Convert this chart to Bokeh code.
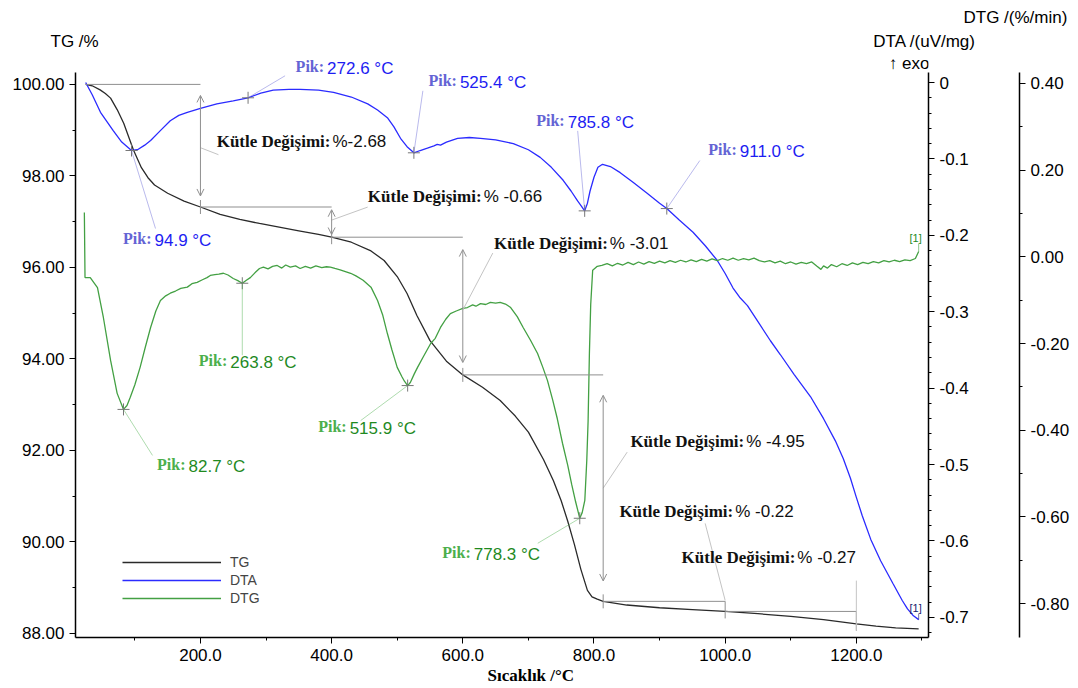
import numpy as np
from bokeh.plotting import figure
from bokeh.models import (Range1d, LinearAxis, SingleIntervalTicker,
                          NumeralTickFormatter, Label, Arrow, OpenHead,
                          Legend, LegendItem, Title)
from bokeh.embed import file_html
from bokeh.resources import INLINE

# ---------------- measured curves ----------------
# TG: residual mass (%)
tg_temp = [25, 35, 47, 55, 63, 73, 83, 98, 110, 120,
           130, 150, 175, 200, 230, 260, 290, 320, 350, 380,
           400, 430, 460, 480, 500, 515, 530, 550, 575, 600,
           630, 657, 680, 700, 723, 738, 750, 760, 770, 780,
           790, 797, 805, 814, 850, 900, 950, 1000, 1050, 1100,
           1150, 1200, 1230, 1260, 1295]
tg_mass = [100.00, 99.97, 99.88, 99.80, 99.70, 99.45, 99.15, 98.56, 98.18, 97.96,
           97.80, 97.62, 97.45, 97.32, 97.16, 97.05, 96.96, 96.88, 96.80, 96.72,
           96.66, 96.55, 96.36, 96.15, 95.80, 95.43, 94.95, 94.40, 93.95, 93.65,
           93.38, 93.09, 92.75, 92.40, 91.80, 91.34, 90.90, 90.45, 89.95, 89.40,
           88.94, 88.80, 88.75, 88.70, 88.62, 88.56, 88.52, 88.48, 88.43, 88.37,
           88.30, 88.21, 88.16, 88.12, 88.10]

# DTA signal (uV/mg), exo up
dta_temp = [25, 35, 47.6, 67, 80, 94.9, 104, 115, 124, 140,
            154, 167, 180, 200, 225, 250, 272.6, 292, 311, 335,
            352, 380, 403, 430, 455, 470, 485, 495, 505, 515,
            525.4, 535, 546, 556, 561, 566, 575, 592, 610, 627,
            650, 677, 700, 718, 735, 753, 765, 775, 781, 785.8,
            790, 794, 800, 806, 813, 825, 840, 860, 881, 900,
            911, 930, 951, 970, 988, 1000, 1012, 1022, 1034, 1050,
            1069, 1084, 1105, 1130, 1150, 1168, 1180, 1191, 1200, 1209,
            1222, 1237, 1256, 1270, 1278, 1287, 1295]
dta_signal = [0.000, -0.016, -0.039, -0.063, -0.078, -0.089, -0.088, -0.082, -0.076, -0.062,
              -0.050, -0.043, -0.039, -0.034, -0.028, -0.024, -0.020, -0.014, -0.010, -0.009,
              -0.009, -0.010, -0.013, -0.019, -0.028, -0.036, -0.046, -0.058, -0.073, -0.084,
              -0.092, -0.089, -0.086, -0.083, -0.081, -0.082, -0.078, -0.073, -0.072, -0.073,
              -0.075, -0.080, -0.088, -0.098, -0.111, -0.128, -0.142, -0.155, -0.162, -0.168,
              -0.158, -0.142, -0.124, -0.111, -0.107, -0.110, -0.118, -0.131, -0.145, -0.158,
              -0.165, -0.180, -0.196, -0.214, -0.233, -0.250, -0.269, -0.281, -0.292, -0.313,
              -0.338, -0.356, -0.382, -0.411, -0.440, -0.469, -0.492, -0.518, -0.543, -0.567,
              -0.598, -0.626, -0.656, -0.678, -0.689, -0.698, -0.703]

# DTG: rate of mass change (%/min)
dtg_temp = [23, 24, 32, 43, 52, 63, 73, 82.7, 88, 93,
            100, 108, 116, 124, 132, 139, 147, 154, 162, 170,
            180, 187, 195, 203, 210, 215, 222, 228, 235, 242,
            250, 257, 263.8, 270, 276, 283, 290, 296, 303, 310,
            317, 324, 330, 337, 345, 352, 360, 368, 376, 385,
            392, 398, 405, 413, 421, 429, 437, 448, 460, 470,
            478, 485, 492, 500, 507, 511, 515.9, 520, 526, 531,
            540, 551, 558, 566, 574, 581, 590, 600, 607, 615,
            620, 627, 635, 642, 650, 657, 665, 673, 683, 692,
            703, 714, 722, 729, 737, 744, 752, 760, 766, 772,
            778.3, 782, 786, 789, 791, 793, 795, 798, 805, 812,
            820, 828, 836, 844, 852, 860, 868, 876, 884, 892,
            900, 908, 916, 924, 932, 940, 948, 956, 964, 972,
            980, 988, 996, 1004, 1012, 1020, 1028, 1036, 1044, 1052,
            1060, 1068, 1076, 1084, 1092, 1100, 1108, 1116, 1124, 1132,
            1140, 1146, 1150, 1156, 1162, 1170, 1178, 1186, 1194, 1202,
            1210, 1218, 1226, 1234, 1242, 1250, 1258, 1266, 1274, 1282,
            1290, 1295]
dtg_rate = [0.102, -0.048, -0.048, -0.071, -0.140, -0.239, -0.315, -0.352, -0.343, -0.324,
            -0.295, -0.255, -0.208, -0.163, -0.125, -0.101, -0.090, -0.084, -0.079, -0.073,
            -0.070, -0.062, -0.059, -0.053, -0.048, -0.043, -0.041, -0.040, -0.038, -0.042,
            -0.050, -0.055, -0.061, -0.054, -0.048, -0.037, -0.027, -0.024, -0.028, -0.022,
            -0.020, -0.026, -0.019, -0.024, -0.021, -0.027, -0.022, -0.026, -0.021, -0.025,
            -0.023, -0.024, -0.027, -0.030, -0.034, -0.038, -0.044, -0.054, -0.070, -0.101,
            -0.135, -0.177, -0.215, -0.255, -0.276, -0.287, -0.297, -0.290, -0.270, -0.255,
            -0.230, -0.200, -0.188, -0.163, -0.144, -0.131, -0.125, -0.119, -0.117, -0.111,
            -0.114, -0.108, -0.110, -0.105, -0.107, -0.105, -0.109, -0.117, -0.138, -0.163,
            -0.192, -0.223, -0.255, -0.285, -0.330, -0.373, -0.430, -0.481, -0.525, -0.565,
            -0.603, -0.590, -0.562, -0.470, -0.380, -0.223, -0.110, -0.031, -0.022, -0.020,
            -0.016, -0.021, -0.015, -0.019, -0.013, -0.018, -0.012, -0.017, -0.011, -0.015,
            -0.010, -0.014, -0.009, -0.013, -0.008, -0.012, -0.007, -0.011, -0.006, -0.010,
            -0.005, -0.009, -0.004, -0.008, -0.003, -0.008, -0.004, -0.007, -0.003, -0.009,
            -0.012, -0.009, -0.014, -0.010, -0.016, -0.012, -0.017, -0.013, -0.016, -0.012,
            -0.022, -0.029, -0.021, -0.026, -0.018, -0.023, -0.016, -0.020, -0.014, -0.018,
            -0.013, -0.016, -0.011, -0.014, -0.009, -0.012, -0.008, -0.011, -0.007, -0.009,
            -0.004, 0.012]

# peak temperatures from the evaluation software (°C)
dta_peak_temp = [94.9, 272.6, 525.4, 785.8, 911.0]
dtg_peak_temp = [82.7, 263.8, 515.9, 778.3]

# mass-change steps: temperature bounds (°C) and change (%)
step_bounds = [25, 200, 400, 600, 814, 1000, 1200]
step_change = [-2.68, -0.66, -3.01, -4.95, -0.22, -0.27]
start_mass = 100.00

legend_names = ["TG", "DTA", "DTG"]

# ---------------- layout ----------------
W, H = 1078, 688
BL, BR, BT, BB = 75, 150, 52, 51       # frame borders (frame reaches up to y=52)
AXIS_TOP = 72                          # y axes start here
FRAME_W = W - BL - BR
AXIS_H = H - BB - AXIS_TOP
X_RANGE = (9.5, 1310.0)
TG_AXIS = (87.91, 100.26)
DTA_AXIS = (-0.7264, 0.0131)
DTG_AXIS = (-0.878, 0.425)

px_T = FRAME_W / (X_RANGE[1] - X_RANGE[0])
px_tg = AXIS_H / (TG_AXIS[1] - TG_AXIS[0])
px_dta = AXIS_H / (DTA_AXIS[1] - DTA_AXIS[0])
px_dtg = AXIS_H / (DTG_AXIS[1] - DTG_AXIS[0])


def extend(axis, scale):
    return (axis[0], axis[1] + (AXIS_TOP - BT) / scale)


SANS = "Liberation Sans"
SERIF = "Liberation Serif"
C_TG = "#2a2a2a"
C_DTA = "#2b2bff"
C_DTG = "#43a043"
GREY = "#8f8f8f"
LEADER = "#c4c4c4"
NBSP = "\u00a0"

# label / leader offsets in pixels (dx right, dy down) from the peak point
dta_label_off = [(20, 90), (76, -29), (43, -70), (-20, -88), (70, -57)]
dta_leader_off = [(24, 78), (37, -22), (9, -62), (-7, -80), (33, -48)]
dtg_label_off = [(62, 57), (-15, 79), (-61, 43), (-109, 36)]
dtg_leader_off = [(29, 46), (0, 72), (-47, 35), (-42, 25)]
# mass-change label offsets from (step end, mid level)
step_label_off = [(130, -4), (150, -26), (145, -63), (141, -47), (8, -95), (-61, -60)]
step_leader_off = [((0, 2), (18, 9)), ((0, -2), (36, -15)), ((0, 4), (30, -53)),
                   ((0, 0), (24, -36)), ((0, -6), (-20, -83)), ((0, -37), (0, 13))]
step_sep = ["", " ", " ", " ", " ", " "]

p = figure(width=W, height=H, output_backend="svg", toolbar_location=None,
           x_range=Range1d(*X_RANGE), y_range=Range1d(*extend(TG_AXIS, px_tg)),
           min_border_left=BL, min_border_right=BR,
           min_border_top=BT, min_border_bottom=BB)
p.extra_y_ranges = {"dta": Range1d(*extend(DTA_AXIS, px_dta)),
                    "dtg": Range1d(*extend(DTG_AXIS, px_dtg))}
p.outline_line_color = None
p.xgrid.visible = False
p.ygrid.visible = False
p.background_fill_color = "white"
p.border_fill_color = "white"

# outer title row: DTG axis title
p.title.text = "DTG /(%/min)"
p.title.align = "left"
p.title.offset = 963 - BL
p.title.standoff = 3
p.title.text_font = SANS
p.title.text_font_size = "17px"
p.title.text_font_style = "normal"
p.title.text_color = "black"

# inner title row: TG and DTA axis titles
p.add_layout(Title(text="TG /%" + NBSP * 164 + "DTA /(uV/mg)", align="left",
                   offset=50 - BL, standoff=3, text_font=SANS,
                   text_font_size="17px", text_font_style="normal",
                   text_color="black"), "above")


def style_axis(ax):
    ax.axis_line_color = "black"
    ax.axis_line_width = 1.5
    ax.major_tick_line_color = "black"
    ax.major_tick_in = 0
    ax.major_tick_out = 6
    ax.minor_tick_line_color = "black"
    ax.minor_tick_in = 0
    ax.minor_tick_out = 3
    ax.major_label_text_font = SANS
    ax.major_label_text_font_size = "17px"
    ax.major_label_text_color = "black"
    ax.major_label_standoff = 5


xa = p.xaxis[0]
xa.ticker = SingleIntervalTicker(interval=200, num_minor_ticks=2)
xa.formatter = NumeralTickFormatter(format="0.0")
style_axis(xa)

ya = p.yaxis[0]
ya.ticker = SingleIntervalTicker(interval=2, num_minor_ticks=2)
ya.formatter = NumeralTickFormatter(format="0.00")
ya.bounds = TG_AXIS
style_axis(ya)

dta_axis = LinearAxis(y_range_name="dta", bounds=DTA_AXIS,
                      ticker=SingleIntervalTicker(interval=0.1, num_minor_ticks=5),
                      formatter=NumeralTickFormatter(format="0.[0]"),
                      axis_label=" ", axis_label_standoff=34,
                      axis_label_text_font_size="10px")
style_axis(dta_axis)
p.add_layout(dta_axis, "right")

dtg_axis = LinearAxis(y_range_name="dtg", bounds=DTG_AXIS,
                      ticker=SingleIntervalTicker(interval=0.2, num_minor_ticks=2),
                      formatter=NumeralTickFormatter(format="0.00"))
style_axis(dtg_axis)
p.add_layout(dtg_axis, "right")

# x-axis title below the tick labels
p.add_layout(Title(text="Sıcaklık /°C", align="left", offset=487 - BL, standoff=0,
                   text_font=SERIF, text_font_style="bold", text_font_size="17px",
                   text_color="black"), "below")

# ---------------- curves ----------------
r_tg = p.line(tg_temp, tg_mass, line_color=C_TG, line_width=1.3)
r_dta = p.line(dta_temp, dta_signal, line_color=C_DTA, line_width=1.3, y_range_name="dta")
r_dtg = p.line(dtg_temp, dtg_rate, line_color=C_DTG, line_width=1.3, y_range_name="dtg")


def text_label(**kw):
    p.add_layout(Label(**kw))


# ---------------- peak annotations ----------------
def peak_block(peaks, temps, vals, py, rname, label_off, leader_off, c_pik, c_val):
    ys = list(np.interp(peaks, temps, vals))
    p.scatter(peaks, ys, marker="cross", size=12, line_color="#777777",
              line_width=1, y_range_name=rname)
    x0, y0, x1, y1 = [], [], [], []
    for t, v, (dx, dy) in zip(peaks, ys, leader_off):
        x0.append(t)
        y0.append(v)
        x1.append(t + dx / px_T)
        y1.append(v - dy / py)
    p.segment(x0=x0, y0=y0, x1=x1, y1=y1, line_color=c_pik, line_alpha=0.45,
              line_width=1, y_range_name=rname)
    for t, v, (dx, dy) in zip(peaks, ys, label_off):
        text_label(x=t, y=v, y_range_name=rname, x_offset=dx, y_offset=-dy + 2,
                   text="Pik:", text_align="right", text_baseline="middle",
                   text_font=SERIF, text_font_style="bold",
                   text_font_size="16px", text_color=c_pik)
        text_label(x=t, y=v, y_range_name=rname, x_offset=dx + 3, y_offset=-dy,
                   text=f"{t:.1f} °C", text_align="left", text_baseline="middle",
                   text_font=SANS, text_font_size="17px", text_color=c_val)


peak_block(dta_peak_temp, dta_temp, dta_signal, px_dta, "dta",
           dta_label_off, dta_leader_off, "#6464d4", "#1d1df2")
peak_block(dtg_peak_temp, dtg_temp, dtg_rate, px_dtg, "dtg",
           dtg_label_off, dtg_leader_off, "#4caf4c", "#1f8a1f")

# ---------------- mass-change steps ----------------
levels = [start_mass]
for c in step_change:
    levels.append(round(levels[-1] + c, 2))

hx0, hy0, hx1, hy1 = [], [], [], []
for i in range(len(step_change)):
    hx0.append(step_bounds[i])
    hx1.append(step_bounds[i + 1])
    hy0.append(levels[i])
    hy1.append(levels[i])
p.segment(x0=hx0, y0=hy0, x1=hx1, y1=hy1, line_color=GREY, line_width=1)

vx0, vy0, vx1, vy1 = [], [], [], []
for i in range(len(step_change)):
    t = step_bounds[i + 1]
    top, bot = levels[i], levels[i + 1]
    if i < 4:
        inset = 0.09 * (top - bot)
        p.add_layout(Arrow(start=OpenHead(size=7, line_color=GREY, line_width=1),
                           end=OpenHead(size=7, line_color=GREY, line_width=1),
                           x_start=t, y_start=top - inset, x_end=t, y_end=bot + inset,
                           line_color=GREY, line_width=1))
        vx0.append(t); vy0.append(bot + 7 / px_tg)
        vx1.append(t); vy1.append(bot - 7 / px_tg)
    else:
        vx0.append(t); vy0.append(top)
        vx1.append(t); vy1.append(bot - 7 / px_tg)
p.segment(x0=vx0, y0=vy0, x1=vx1, y1=vy1, line_color=GREY, line_width=1)

lx0, ly0, lx1, ly1 = [], [], [], []
for i, c in enumerate(step_change):
    t = step_bounds[i + 1]
    mid = (levels[i] + levels[i + 1]) / 2
    (a, b), (cx, cy) = step_leader_off[i]
    lx0.append(t + a / px_T); ly0.append(mid - b / px_tg)
    lx1.append(t + cx / px_T); ly1.append(mid - cy / px_tg)
    dx, dy = step_label_off[i]
    text_label(x=t, y=mid, x_offset=dx, y_offset=-dy,
               text="Kütle Değişimi:", text_align="right", text_baseline="middle",
               text_font=SERIF, text_font_style="bold", text_font_size="17px",
               text_color="#111111")
    text_label(x=t, y=mid, x_offset=dx + 2, y_offset=-dy,
               text=f"%{step_sep[i]}{c:.2f}", text_align="left",
               text_baseline="middle", text_font=SANS, text_font_size="17px",
               text_color="#111111")
p.segment(x0=lx0, y0=ly0, x1=lx1, y1=ly1, line_color=LEADER, line_width=1)

# end markers "[1]"
end_g = (dtg_temp[-1], dtg_rate[-1])
p.segment(x0=[end_g[0]], y0=[end_g[1]], x1=[end_g[0]], y1=[end_g[1] + 8 / px_dtg],
          line_color=C_DTG, line_alpha=0.6, y_range_name="dtg")
text_label(x=end_g[0], y=end_g[1], y_range_name="dtg", x_offset=-3, y_offset=14,
           text="[1]", text_align="center", text_baseline="middle",
           text_font=SANS, text_font_size="11px", text_color="#1f8a1f")
end_b = (dta_temp[-1], dta_signal[-1])
p.segment(x0=[end_b[0]], y0=[end_b[1]], x1=[end_b[0]], y1=[end_b[1] + 6 / px_dta],
          line_color="#1a1a6e", line_alpha=0.6, y_range_name="dta")
text_label(x=end_b[0], y=end_b[1], y_range_name="dta", x_offset=-3, y_offset=12,
           text="[1]", text_align="center", text_baseline="middle",
           text_font=SANS, text_font_size="11px", text_color="#1a1a6e")

# "exo up" marker under the DTA title, inside the upper band of the frame
text_label(x=929 - BL, y=H - BB - 63, x_units="screen", y_units="screen",
           text="↑ exo", text_align="right", text_baseline="middle",
           text_font=SANS, text_font_size="17px", text_color="black")

# ---------------- legend ----------------
legend = Legend(items=[LegendItem(label=n, renderers=[r])
                       for n, r in zip(legend_names, [r_tg, r_dta, r_dtg])],
                location=(47, 30), orientation="vertical",
                background_fill_alpha=0, border_line_alpha=0,
                padding=0, margin=0, spacing=0,
                glyph_width=99, glyph_height=18, label_height=18,
                label_standoff=9,
                label_text_font=SANS, label_text_font_size="14px")
p.add_layout(legend)

open("out.html", "w").write(file_html(p, INLINE))
